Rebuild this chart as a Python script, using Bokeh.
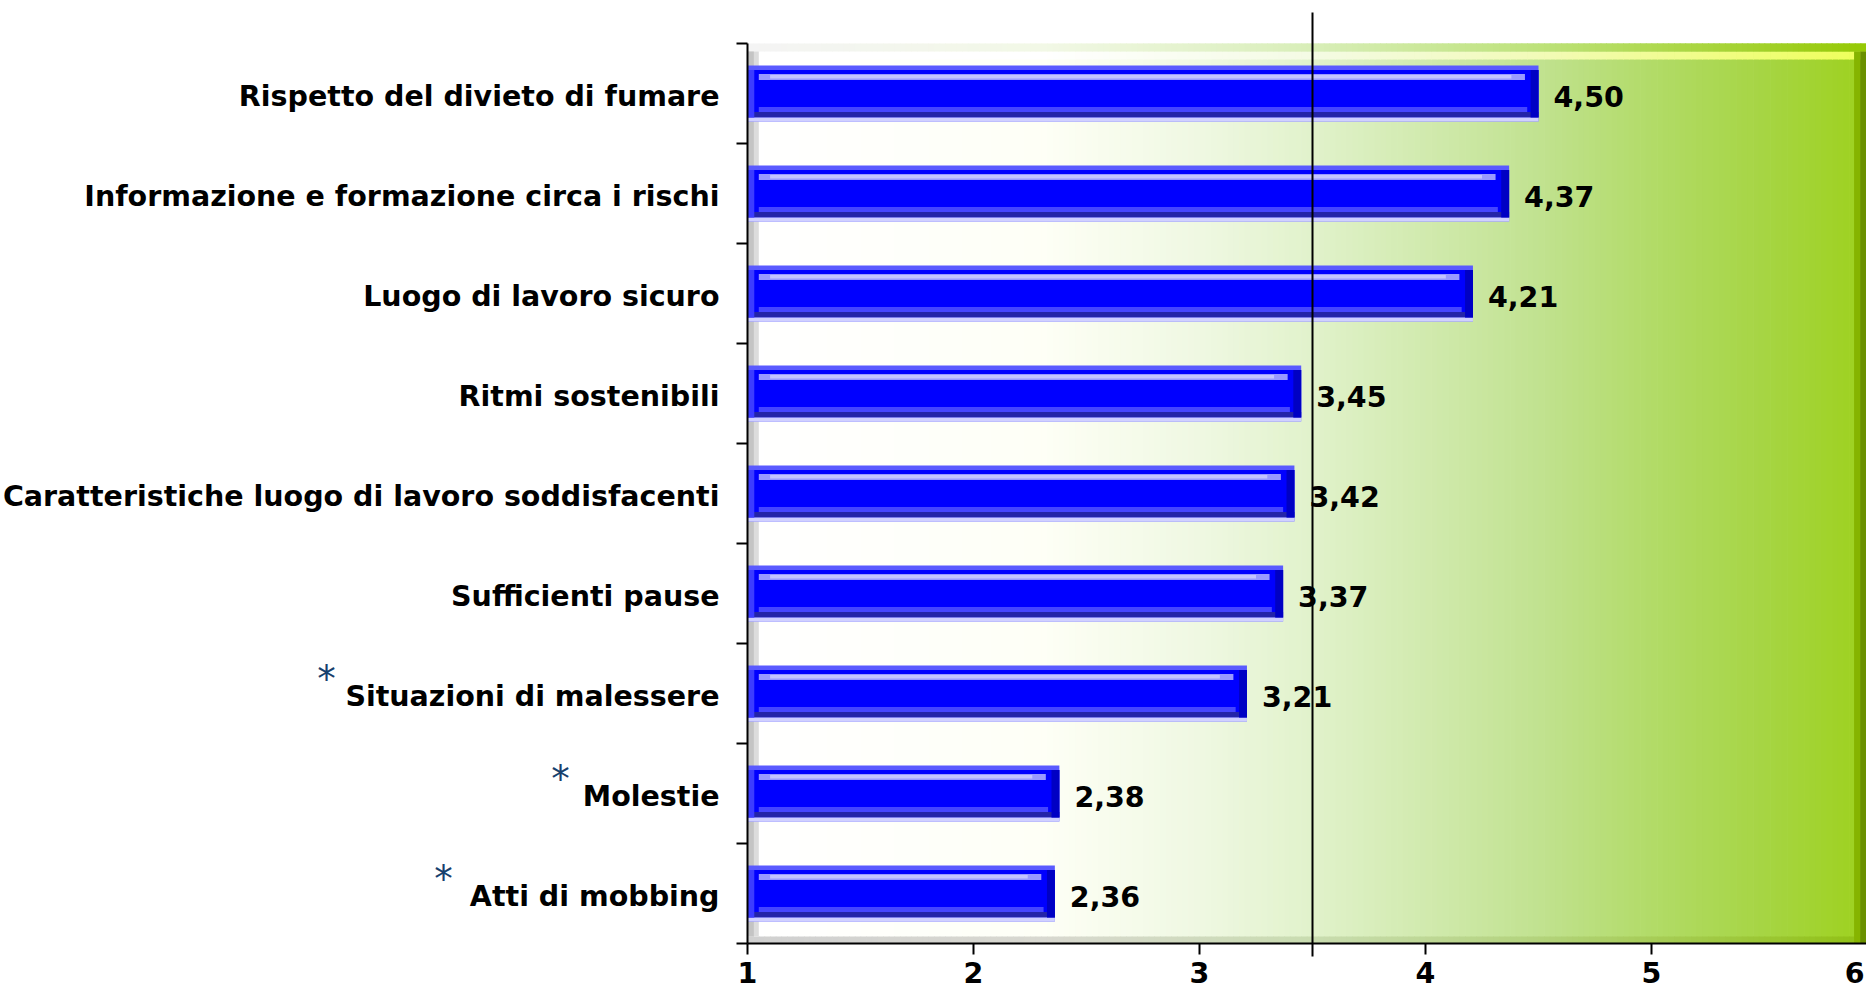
import numpy as np
from bokeh.plotting import figure
from bokeh.models import Range1d, ColumnDataSource
from bokeh.core.properties import value
from bokeh.embed import file_html
from bokeh.resources import INLINE

# ---------------- data ----------------
categories = [
    "Rispetto del divieto di fumare",
    "Informazione e formazione circa i rischi",
    "Luogo di lavoro sicuro",
    "Ritmi sostenibili",
    "Caratteristiche luogo di lavoro soddisfacenti",
    "Sufficienti pause",
    "Situazioni di malessere",
    "Molestie",
    "Atti di mobbing",
]
scores = [4.50, 4.37, 4.21, 3.45, 3.42, 3.37, 3.21, 2.38, 2.36]
starred = [False, False, False, False, False, False, True, True, True]
x_ticks = [1, 2, 3, 4, 5, 6]
x_tick_labels = ["1", "2", "3", "4", "5", "6"]
reference_line = 3.5

# ---------------- styles ----------------
FONT = "DejaVu Sans"
LABEL_SIZE = "28.5px"
BAR_H = 0.56
PX_X = 226.0      # pixels per x unit
PX_Y = 100.0      # pixels per category band
W, H = 1866, 990
AXIS_PX = 747     # screen position of the value axis
BOTTOM_PX = 943   # screen position of the category axis bottom
STAR_DX = {"Situazioni di malessere": -421, "Molestie": -187, "Atti di mobbing": -304}

n = len(categories)
ys = np.arange(n)[::-1].astype(float)          # first category at top
vals = np.array(scores)
x0 = float(x_ticks[0])
xs0 = x0 - AXIS_PX / PX_X
xs1 = xs0 + W / PX_X
y_lo = -0.5 - (H - BOTTOM_PX) / PX_Y
y_hi = -0.5 + BOTTOM_PX / PX_Y
y_top = n - 0.5
tick_x = 11 / PX_X
tick_y = 11 / PX_Y

p = figure(width=W, height=H, output_backend="svg", toolbar_location=None,
           x_range=Range1d(xs0, xs1), y_range=Range1d(y_lo, y_hi),
           x_axis_location=None, y_axis_location=None,
           min_border=0)
p.outline_line_color = None
p.background_fill_color = "white"
p.border_fill_color = "white"
p.grid.grid_line_color = None

# ---- background gradient (back wall) ----
def hex2rgb(h):
    return np.array([int(h[i:i + 2], 16) for i in (1, 3, 5)], dtype=float)

def gradient(xs, stops_x, stops_c):
    rgbs = np.array([hex2rgb(c) for c in stops_c])
    out = []
    for m in xs:
        r = [np.interp(m, stops_x, rgbs[:, k]) for k in range(3)]
        out.append("#%02x%02x%02x" % tuple(int(round(v)) for v in r))
    return out

edges = np.linspace(x0, x_ticks[-1], 201)
mids = (edges[:-1] + edges[1:]) / 2
wall = gradient(mids, [1.0, 2.3, 3.0, 3.5, 4.0, 4.5, 5.0, 5.5, 6.0],
                ["#ffffff", "#fefff6", "#eff8e2", "#e1f2cb", "#d1eaae", "#c1e290", "#b2db68", "#a6d543", "#9dd11a"])
rim = gradient(mids, [1.0, 2.3, 3.5, 4.5, 6.0],
               ["#f4f4f4", "#f2f8e6", "#d8eeb8", "#bde27a", "#94c800"])
glow = gradient(mids, [1.0, 2.3, 3.5, 4.5, 6.0],
                ["#ffffff", "#ffffff", "#f4fbe4", "#f2fbb8", "#eeff55"])
floor = gradient(mids, [1.0, 2.3, 3.5, 4.5, 6.0],
                 ["#d0d0d0", "#d8d8d0", "#c9dcb0", "#b3d37c", "#8fc010"])

p.quad(left=edges[:-1], right=edges[1:] + 0.003, bottom=-0.5, top=y_top, fill_color=wall, line_color=None)
p.quad(left=edges[:-1], right=edges[1:] + 0.003, bottom=y_top - 0.16, top=y_top - 0.08, fill_color=glow, line_color=None)
p.quad(left=edges[:-1], right=edges[1:] + 0.003, bottom=y_top - 0.08, top=y_top, fill_color=rim, line_color=None)
p.quad(left=edges[:-1], right=edges[1:] + 0.003, bottom=-0.5, top=-0.5 + 0.07, fill_color=floor, line_color=None)
# right edge shading
p.quad(left=xs1 - 0.055, right=xs1 - 0.028, bottom=-0.5, top=y_top - 0.08, fill_color="#86b400", line_color=None)
p.quad(left=xs1 - 0.028, right=xs1, bottom=-0.5, top=y_top - 0.08, fill_color="#6a9000", line_color=None)
# left wall shadow
p.quad(left=x0, right=x0 + 0.05, bottom=-0.5 + 0.07, top=y_top - 0.08, fill_color="#dcdcdc", line_color=None)
p.quad(left=x0, right=x0 + 0.028, bottom=-0.5 + 0.07, top=y_top - 0.08, fill_color="#c4c4c4", line_color=None)

# ---- bars (bevelled look, stacked layers) ----
top = ys + BAR_H / 2
def layer(f0, f1, color, left_in=0.0, right_in=0.0):
    p.quad(left=x0 + left_in, right=vals - right_in, top=top - f0 * BAR_H, bottom=top - f1 * BAR_H,
           fill_color=color, line_color=None)

layer(0.00, 1.00, "#5a5aff")
layer(0.08, 0.93, "#0000ff")
layer(0.15, 0.26, "#9a9aff", 0.05, 0.06)
layer(0.17, 0.23, "#c4c4ff", 0.10, 0.12)
layer(0.74, 0.83, "#4646ff", 0.05, 0.05)
layer(0.83, 0.93, "#2424a8")
layer(0.93, 1.00, "#d0d0ff")
p.quad(left=vals - 0.035, right=vals, top=top - 0.08 * BAR_H, bottom=top - 0.93 * BAR_H,
       fill_color="#0000c4", line_color=None)
p.quad(left=x0, right=x0 + 0.03, top=top - 0.08 * BAR_H, bottom=top - 0.93 * BAR_H,
       fill_color="#3c3cff", line_color=None)

# ---- value labels ----
src = ColumnDataSource(dict(x=vals, y=ys, t=[("%.2f" % v).replace(".", ",") for v in vals]))
p.text(x="x", y="y", text="t", source=src, x_offset=15, y_offset=3, text_baseline="middle",
       text_align="left", text_font=value(FONT), text_font_style="bold",
       text_font_size=LABEL_SIZE, text_color="black")

# ---- category labels ----
csrc = ColumnDataSource(dict(x=[x0] * n, y=ys, t=categories))
p.text(x="x", y="y", text="t", source=csrc, x_offset=-28, y_offset=3, text_baseline="middle",
       text_align="right", text_font=value(FONT), text_font_style="bold",
       text_font_size=LABEL_SIZE, text_color="black")

# ---- asterisks for flagged items ----
sy = [y for y, s in zip(ys, starred) if s]
sdx = [STAR_DX[c] for c, s in zip(categories, starred) if s]
ssrc = ColumnDataSource(dict(x=[x0] * len(sy), y=sy, dx=sdx, t=["*"] * len(sy)))
p.text(x="x", y="y", text="t", source=ssrc, x_offset="dx", y_offset=-14, text_baseline="middle",
       text_align="center", text_font=value(FONT), text_font_size="37px", text_color="#17406d")

# ---- reference line ----
p.segment(x0=[reference_line], y0=[-0.5 - 0.13], x1=[reference_line], y1=[y_top + 0.31],
          line_color="black", line_width=2)

# ---- axes drawn as lines ----
bounds = np.arange(-0.5, n, 1.0)
p.segment(x0=[x0], y0=[-0.5], x1=[x0], y1=[y_top], line_color="black", line_width=2)
p.segment(x0=x0 - tick_x, y0=bounds, x1=x0, y1=bounds, line_color="black", line_width=2)
p.segment(x0=[x0], y0=[-0.5], x1=[xs1], y1=[-0.5], line_color="black", line_width=2)
p.segment(x0=x_ticks, y0=-0.5, x1=x_ticks, y1=-0.5 - tick_y, line_color="black", line_width=2)

# tick labels: the ones inside the canvas are centred on their tick,
# the last one (beyond the canvas edge) is pulled in against the edge
inside = [(t, l) for t, l in zip(x_ticks, x_tick_labels) if t < xs1 - 0.05]
outside = [(t, l) for t, l in zip(x_ticks, x_tick_labels) if t >= xs1 - 0.05]
label_y = -0.5 - 0.18
tsrc = ColumnDataSource(dict(x=[t for t, _ in inside], y=[label_y] * len(inside), t=[l for _, l in inside]))
p.text(x="x", y="y", text="t", source=tsrc, text_baseline="top", text_align="center",
       text_font=value(FONT), text_font_style="bold", text_font_size=LABEL_SIZE, text_color="black")
osrc = ColumnDataSource(dict(x=[xs1] * len(outside), y=[label_y] * len(outside), t=[l for _, l in outside]))
p.text(x="x", y="y", text="t", source=osrc, text_baseline="top", text_align="right", x_offset=-2,
       text_font=value(FONT), text_font_style="bold", text_font_size=LABEL_SIZE, text_color="black")

open("out.html", "w").write(file_html(p, INLINE))
